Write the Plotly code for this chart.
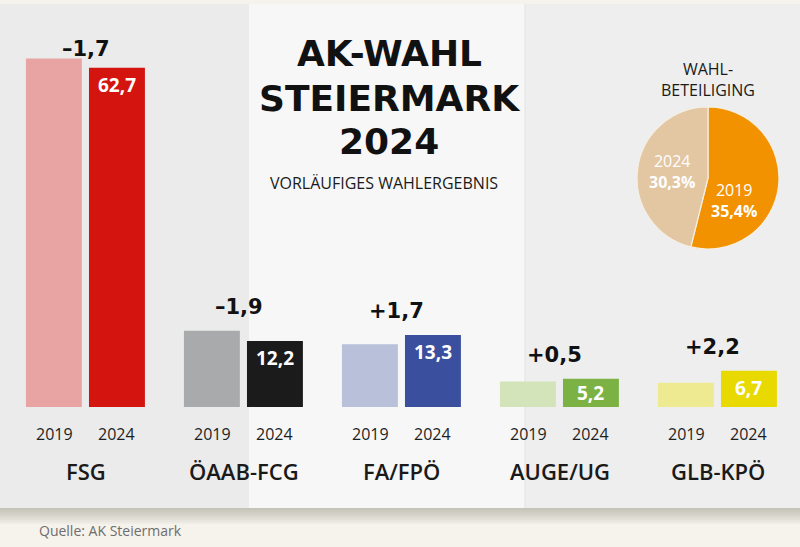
import plotly.graph_objects as go

# ---------------- data ----------------
parties = ["FSG", "ÖAAB-FCG", "FA/FPÖ", "AUGE/UG", "GLB-KPÖ"]
years = ["2019", "2024"]
v2019 = [64.4, 14.1, 11.6, 4.7, 4.5]
v2024 = [62.7, 12.2, 13.3, 5.2, 6.7]
delta_labels = ["–1,7", "–1,9", "+1,7", "+0,5", "+2,2"]
value_labels = ["62,7", "12,2", "13,3", "5,2", "6,7"]
col2019 = ["#e8a4a3", "#a9aaac", "#b9c0da", "#d3e3ba", "#eeea92"]
col2024 = ["#d3140f", "#1b1b1b", "#3a4f9d", "#7cb244", "#e8d900"]

turnout_labels = ["2019", "2024"]
turnout_values = [35.4, 30.3]
turnout_text = ["35,4%", "30,3%"]
turnout_colors = ["#f39200", "#e3c6a2"]

W, H = 800, 547
PX_PER_UNIT = 5.41
BASE_PX = 407


def py(px):
    return 1 - px / H


def pxx(px):
    return px / W


fig = go.Figure()

fig.add_trace(go.Bar(
    x=parties, y=v2019, name="2019",
    marker=dict(color=col2019, line=dict(width=0)),
    width=0.354, offset=-0.377, hoverinfo="x+y",
))
fig.add_trace(go.Bar(
    x=parties, y=v2024, name="2024",
    marker=dict(color=col2024, line=dict(width=0)),
    width=0.354, offset=0.022, hoverinfo="x+y",
))

fig.add_trace(go.Pie(
    labels=turnout_labels, values=turnout_values,
    marker=dict(colors=turnout_colors, line=dict(color="#f6efe4", width=1.2)),
    sort=False, direction="clockwise", rotation=0,
    textinfo="none", hoverinfo="label+value",
    domain=dict(x=[pxx(637), pxx(779)], y=[py(249), py(107)]),
    showlegend=False,
))

annotations = []

TITLE_FONT = "DejaVu Sans"
SANS = "Open Sans"

# title
for txt, ypx in [("AK-WAHL", 53), ("STEIERMARK", 98), ("2024", 142)]:
    annotations.append(dict(
        text=f"<b>{txt}</b>", x=pxx(389), y=py(ypx), xref="paper", yref="paper",
        xanchor="center", yanchor="middle", showarrow=False,
        font=dict(family=TITLE_FONT, size=36, color="#111111"),
    ))
annotations.append(dict(
    text="VORLÄUFIGES WAHLERGEBNIS", x=pxx(384), y=py(183), xref="paper", yref="paper",
    xanchor="center", yanchor="middle", showarrow=False,
    font=dict(family=SANS, size=16, color="#1a1a1a"),
))

# turnout heading
annotations.append(dict(
    text="WAHL-<br>BETEILIGING", x=pxx(708), y=py(79.5), xref="paper", yref="paper",
    xanchor="center", yanchor="middle", showarrow=False,
    font=dict(family=SANS, size=16, color="#1a1a1a"),
))

# pie labels
pie_label_pos = {"2019": (734, 200), "2024": (672, 171)}
for lab, txt in zip(turnout_labels, turnout_text):
    xp, yc = pie_label_pos[lab]
    annotations.append(dict(
        text=f"{lab}<br><b>{txt}</b>", x=pxx(xp), y=py(yc), xref="paper", yref="paper",
        xanchor="center", yanchor="middle", showarrow=False,
        font=dict(family=SANS, size=16, color="#ffffff"),
    ))

# bar annotations
for i, p in enumerate(parties):
    top = max(v2019[i], v2024[i])
    annotations.append(dict(
        text=f"<b>{delta_labels[i]}</b>", x=i - (0.0 if i == 0 else 0.03), y=top,
        xref="x", yref="y", xanchor="center", yanchor="middle", showarrow=False,
        yshift=10 if i == 0 else 24,
        font=dict(family=TITLE_FONT, size=21, color="#111111"),
    ))
    hpx = v2024[i] * PX_PER_UNIT
    annotations.append(dict(
        text=f"<b>{value_labels[i]}</b>", x=i + 0.199, y=v2024[i],
        xref="x", yref="y", xanchor="center", yanchor="middle", showarrow=False,
        yshift=-min(17, hpx / 2),
        font=dict(family=SANS, size=19, color="#ffffff"),
    ))
    for k, yr in enumerate(years):
        annotations.append(dict(
            text=yr, x=i + (-0.199 if k == 0 else 0.199), y=py(434),
            xref="x", yref="paper", xanchor="center", yanchor="middle", showarrow=False,
            font=dict(family=SANS, size=16, color="#1e1e1e"),
        ))
    annotations.append(dict(
        text=p, x=i, y=py(471), xref="x", yref="paper",
        xanchor="center", yanchor="middle", showarrow=False,
        font=dict(family=SANS, size=22, color="#1a1a1a", weight=600),
    ))

annotations.append(dict(
    text="Quelle: AK Steiermark", x=pxx(37), y=py(530), xref="paper", yref="paper",
    xanchor="left", yanchor="middle", showarrow=False,
    font=dict(family=SANS, size=14, color="#6e6e6e"),
))

# background paper panels
shapes = []
panel_top, panel_bot = py(4), py(508)
for x0, x1, c in [(0, 249, "#ebebeb"), (249, 525, "#f7f7f7"), (525, 800, "#eeeeee")]:
    shapes.append(dict(type="rect", xref="paper", yref="paper", layer="below",
                       x0=pxx(x0), x1=pxx(x1), y0=panel_bot, y1=panel_top,
                       fillcolor=c, line=dict(width=0)))
# fold line
shapes.append(dict(type="line", xref="paper", yref="paper", layer="below",
                   x0=pxx(525), x1=pxx(525), y0=panel_bot, y1=panel_top,
                   line=dict(color="#e2e2e2", width=1)))
# shadow under the paper
for k in range(8):
    shapes.append(dict(type="rect", xref="paper", yref="paper", layer="below",
                       x0=0, x1=1, y0=py(508 + 2 * (k + 1)), y1=panel_bot,
                       fillcolor="rgba(120,110,100,0.05)", line=dict(width=0)))

fig.update_layout(
    width=W, height=H,
    margin=dict(l=0, r=0, t=0, b=0),
    paper_bgcolor="#f6f2ec",
    plot_bgcolor="rgba(0,0,0,0)",
    barmode="overlay",
    showlegend=False,
    xaxis=dict(domain=[pxx(6.5), pxx(796.5)], range=[-0.5, 4.5], visible=False,
               type="category", categoryorder="array", categoryarray=parties),
    yaxis=dict(domain=[py(BASE_PX), 1], range=[0, BASE_PX / PX_PER_UNIT], visible=False),
    annotations=annotations,
    shapes=shapes,
)

fig.write_html(
    "out.html",
    config={"displayModeBar": False},
    post_script="document.body.style.margin='0';document.body.style.overflow='hidden';",
)
